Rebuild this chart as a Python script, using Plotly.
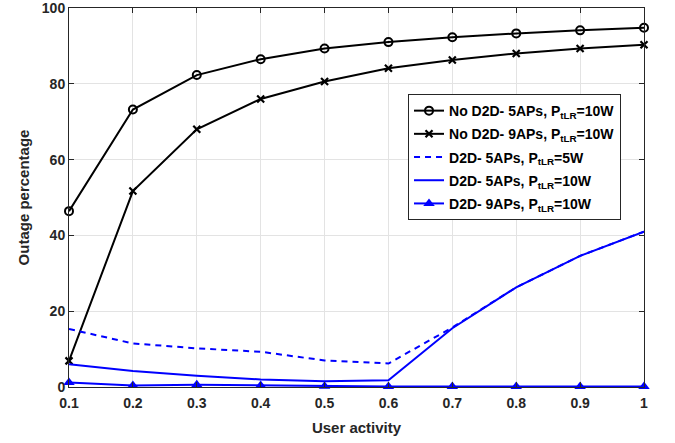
import plotly.graph_objects as go

activity = [0.1, 0.2, 0.3, 0.4, 0.5, 0.6, 0.7, 0.8, 0.9, 1.0]
nod2d_5ap_10w = [46.4, 73.2, 82.3, 86.5, 89.3, 91.0, 92.3, 93.3, 94.1, 94.8]
nod2d_9ap_10w = [6.9, 51.7, 68.0, 76.0, 80.6, 84.1, 86.3, 88.0, 89.3, 90.3]
d2d_5ap_5w = [15.3, 11.5, 10.2, 9.3, 7.0, 6.2, 15.7, 26.3, 34.6, 41.0]
d2d_5ap_10w = [6.0, 4.2, 3.0, 2.0, 1.5, 1.8, 15.5, 26.3, 34.6, 41.0]
d2d_9ap_10w = [1.2, 0.4, 0.6, 0.4, 0.2, 0.1, 0.1, 0.1, 0.1, 0.1]

x_ticks = [0.1, 0.2, 0.3, 0.4, 0.5, 0.6, 0.7, 0.8, 0.9, 1.0]
x_ticktext = ["0.1", "0.2", "0.3", "0.4", "0.5", "0.6", "0.7", "0.8", "0.9", "1"]
y_ticks = [0, 20, 40, 60, 80, 100]

FONT = "Liberation Sans, Arial, sans-serif"

fig = go.Figure()
fig.add_trace(go.Scatter(
    x=activity, y=nod2d_5ap_10w, mode="lines+markers",
    name="No D2D- 5APs, P<sub>tLR</sub>=10W", legendgroup="a",
    line=dict(color="black", width=2),
    marker=dict(symbol="circle-open", size=8, color="black", line=dict(width=2)),
    cliponaxis=False))
fig.add_trace(go.Scatter(
    x=activity, y=nod2d_9ap_10w, mode="lines+markers",
    name="No D2D- 9APs, P<sub>tLR</sub>=10W", legendgroup="b",
    line=dict(color="black", width=2),
    marker=dict(symbol="x-thin-open", size=7, color="black", line=dict(width=2.2)),
    cliponaxis=False))
fig.add_trace(go.Scatter(
    x=activity, y=d2d_5ap_5w, mode="lines",
    name="D2D- 5APs, P<sub>tLR</sub>=5W", legendgroup="c",
    line=dict(color="#0000ff", width=2, dash="6px,5px"),
    cliponaxis=False))
fig.add_trace(go.Scatter(
    x=activity, y=d2d_5ap_10w, mode="lines",
    name="D2D- 5APs, P<sub>tLR</sub>=10W", legendgroup="d",
    line=dict(color="#0000ff", width=2),
    cliponaxis=False))
fig.add_trace(go.Scatter(
    x=activity, y=d2d_9ap_10w, mode="lines+markers",
    name="D2D- 9APs, P<sub>tLR</sub>=10W", legendgroup="e",
    line=dict(color="#0000ff", width=2),
    marker=dict(symbol="triangle-up", size=10, color="#0000ff"),
    cliponaxis=False))

axis_common = dict(
    showline=True, linecolor="#262626", linewidth=1, mirror="ticks",
    ticks="inside", ticklen=5, tickcolor="#262626",
    showgrid=True, gridcolor="#e3e3e3", gridwidth=1, zeroline=False,
    automargin=False, ticklabeloverflow="allow",
    tickfont=dict(family=FONT, size=14, color="#262626", weight="bold"),
)

fig.update_layout(
    width=675, height=443,
    margin=dict(l=69, r=31, t=8, b=56),
    paper_bgcolor="white", plot_bgcolor="white",
    font=dict(family=FONT, color="#262626"),
    showlegend=True,
    legend=dict(
        x=0.5896, y=0.773, xanchor="left", yanchor="top",
        bgcolor="white", bordercolor="#262626", borderwidth=1,
        font=dict(family=FONT, size=14, color="black", weight="bold"),
        itemwidth=30, traceorder="grouped", tracegroupgap=2,
    ),
    xaxis=dict(range=[0.1, 1.0], tickvals=x_ticks, ticktext=x_ticktext,
               ticklabelstandoff=3,
               title=dict(text="User activity", font=dict(family=FONT, size=15, color="#262626", weight="bold"), standoff=12),
               **axis_common),
    yaxis=dict(range=[0, 100], tickvals=y_ticks,
               title=dict(text="Outage percentage", font=dict(family=FONT, size=15, color="#262626", weight="bold"), standoff=8),
               **axis_common),
)

fig.write_html("out.html", config={"displayModeBar": False},
               post_script="document.body.style.margin='0';")
